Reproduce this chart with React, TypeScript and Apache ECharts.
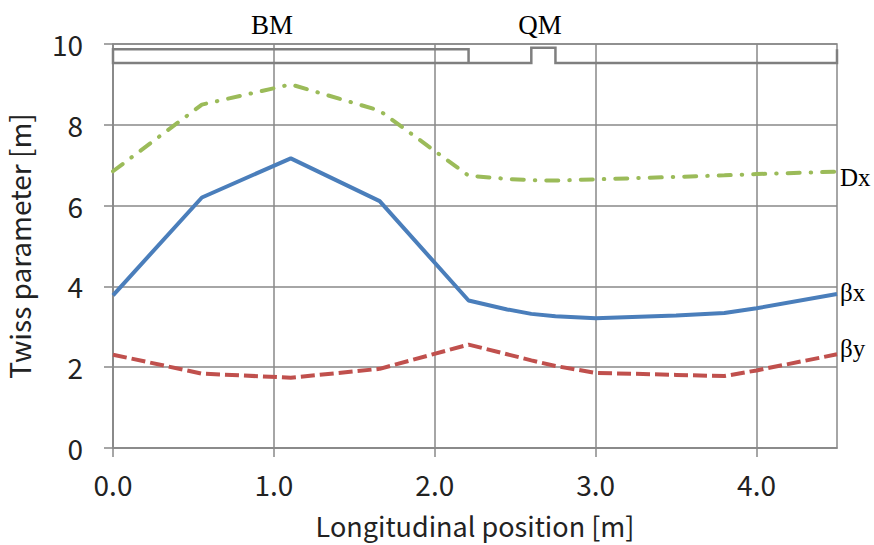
import React, { useEffect, useRef } from "react";
import * as echarts from "echarts";

// Longitudinal positions of lattice points [m]
const sPos = [0, 0.5525, 1.105, 1.6575, 2.21, 2.45, 2.6, 2.75, 3.0, 3.5, 3.8, 4.0, 4.5];
// Twiss parameters [m]
const betaX = [3.78, 6.2, 7.17, 6.11, 3.65, 3.43, 3.32, 3.26, 3.21, 3.28, 3.34, 3.46, 3.81];
const betaY = [2.31, 1.84, 1.74, 1.96, 2.56, 2.32, 2.17, 2.03, 1.86, 1.81, 1.78, 1.92, 2.32];
const dispX = [6.85, 8.5, 9.0, 8.35, 6.74, 6.66, 6.63, 6.62, 6.65, 6.71, 6.75, 6.78, 6.84];

// Magnet layout outline (BM, QM) drawn at the top of the plot
const magnetS = [2.21, 0, 0, 2.21, 2.21, 2.6, 2.6, 2.75, 2.75, 4.5, 4.5];
const magnetY = [9.53, 9.53, 9.87, 9.87, 9.53, 9.53, 9.91, 9.91, 9.53, 9.53, 9.87];

const xTicks = [0, 1, 2, 3, 4];
const yTicks = [0, 2, 4, 6, 8, 10];

const zip = (xs: number[], ys: number[]) => xs.map((x, i) => [x, ys[i]]);

const SANS = "'Noto Sans CJK JP', 'Noto Sans', sans-serif";
const SERIF = "'Liberation Serif', 'DejaVu Serif', serif";
const GRID = "#898989";

export default function App() {
  const ref = useRef<HTMLDivElement>(null);
  useEffect(() => {
    if (!ref.current) return;
    const chart = echarts.init(ref.current, undefined, { renderer: "svg" });
    const endLbl = (text: string, dy: number) => ({
      show: true,
      formatter: text,
      fontFamily: SERIF,
      fontSize: 25,
      color: "#000",
      distance: 3,
      offset: [0, dy],
    });
    chart.setOption({
      animation: false,
      backgroundColor: "#fff",
      grid: {
        left: 113,
        right: 37,
        top: 44,
        bottom: 97,
        outerBoundsMode: "none",
        containLabel: false,
        show: true,
        borderColor: GRID,
        borderWidth: 1.5,
      },
      xAxis: {
        type: "value",
        min: 0,
        max: 4.5,
        interval: 1,
        name: "Longitudinal position [m]",
        nameLocation: "middle",
        nameGap: 64,
        nameTextStyle: { fontFamily: SANS, fontSize: 27, color: "#222" },
        axisLine: { show: true, lineStyle: { color: GRID, width: 1.5 } },
        axisTick: {
          show: true,
          length: 9,
          customValues: xTicks,
          lineStyle: { color: GRID, width: 1.5 },
        },
        axisLabel: {
          customValues: xTicks,
          formatter: (v: number) => v.toFixed(1),
          fontFamily: SANS,
          fontSize: 28,
          color: "#222",
          margin: 22,
        },
        splitLine: { show: true, lineStyle: { color: GRID, width: 1.5 } },
      },
      yAxis: {
        type: "value",
        min: 0,
        max: 10,
        interval: 2,
        name: "Twiss parameter [m]",
        nameLocation: "middle",
        nameGap: 80,
        nameTextStyle: { fontFamily: SANS, fontSize: 28, color: "#222" },
        axisLine: { show: true, lineStyle: { color: GRID, width: 1.5 } },
        axisTick: { show: true, length: 9, lineStyle: { color: GRID, width: 1.5 } },
        axisLabel: {
          customValues: yTicks,
          fontFamily: SANS,
          fontSize: 28,
          color: "#222",
          margin: 30,
        },
        splitLine: { show: true, lineStyle: { color: GRID, width: 1.5 } },
      },
      graphic: [
        {
          type: "text",
          x: 272,
          y: 25,
          style: {
            text: "BM",
            font: `27px ${SERIF}`,
            fill: "#000",
            textAlign: "center",
            textVerticalAlign: "middle",
          },
        },
        {
          type: "text",
          x: 540,
          y: 25,
          style: {
            text: "QM",
            font: `27px ${SERIF}`,
            fill: "#000",
            textAlign: "center",
            textVerticalAlign: "middle",
          },
        },
      ],
      series: [
        {
          name: "magnets",
          type: "line",
          data: zip(magnetS, magnetY),
          showSymbol: false,
          clip: false,
          silent: true,
          lineStyle: { color: "#7f7f7f", width: 2.5, join: "miter" },
          z: 1,
        },
        {
          name: "Dx",
          type: "line",
          data: zip(sPos, dispX),
          showSymbol: false,
          clip: false,
          lineStyle: {
            color: "#9BBB59",
            width: 4,
            type: [12, 11, 0.5, 11],
            cap: "round",
          },
          endLabel: endLbl("Dx", 6),
          z: 3,
        },
        {
          name: "βx",
          type: "line",
          data: zip(sPos, betaX),
          showSymbol: false,
          clip: false,
          lineStyle: { color: "#4A7EBB", width: 4 },
          endLabel: endLbl("βx", -2),
          z: 3,
        },
        {
          name: "βy",
          type: "line",
          data: zip(sPos, betaY),
          showSymbol: false,
          clip: false,
          lineStyle: { color: "#C0504D", width: 4, type: [14, 5] },
          endLabel: endLbl("βy", -6),
          z: 3,
        },
      ],
    });
    return () => chart.dispose();
  }, []);
  return <div ref={ref} style={{ width: 874, height: 545, position: "absolute", left: 0, top: 0 }} />;
}
